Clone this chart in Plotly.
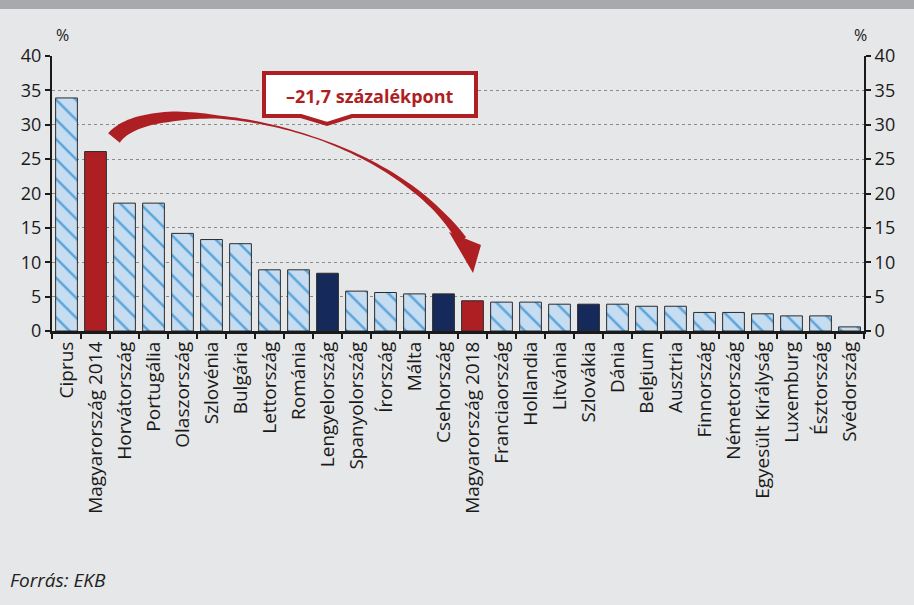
import numpy as np
import plotly.graph_objects as go

# share of non-performing loans, %
countries = ["Ciprus", "Magyarország 2014", "Horvátország", "Portugália", "Olaszország",
             "Szlovénia", "Bulgária", "Lettország", "Románia", "Lengyelország",
             "Spanyolország", "Írország", "Málta", "Csehország", "Magyarország 2018",
             "Franciaország", "Hollandia", "Litvánia", "Szlovákia", "Dánia",
             "Belgium", "Ausztria", "Finnország", "Németország", "Egyesült Királyság",
             "Luxemburg", "Észtország", "Svédország"]
values = [33.9, 26.1, 18.6, 18.6, 14.2, 13.3, 12.7, 8.9, 8.9, 8.4,
          5.8, 5.6, 5.4, 5.4, 4.4, 4.2, 4.2, 3.9, 3.9, 3.9,
          3.6, 3.6, 2.7, 2.7, 2.5, 2.2, 2.2, 0.6]
kinds = ["other", "hu", "other", "other", "other", "other", "other", "other", "other", "v4",
         "other", "other", "other", "v4", "hu", "other", "other", "other", "v4", "other",
         "other", "other", "other", "other", "other", "other", "other", "other"]
y_ticks = [0, 5, 10, 15, 20, 25, 30, 35, 40]

RED = "#AE1F24"
NAVY = "#15295A"
LIGHT = "#C6DCF0"
HATCH = "#5AA5DC"
BG = "#E6E7E8"
FONT = "Open Sans"

W, H = 914, 605
L, R, T, B = 52, 50, 56, 274
pw, ph = W - L - R, H - T - B


def px(x):
    return (x - L) / pw


def py(y):
    return (H - B - y) / ph


def subset(kind):
    xs = [c for c, k in zip(countries, kinds) if k == kind]
    ys = [v for v, k in zip(values, kinds) if k == kind]
    return xs, ys


fig = go.Figure()
styles = {
    "other": dict(color=LIGHT, pattern=dict(shape="\\", fillmode="replace", bgcolor=LIGHT,
                                            fgcolor=HATCH, fgopacity=1, size=14, solidity=0.18)),
    "hu": dict(color=RED),
    "v4": dict(color=NAVY),
}
for kind, st in styles.items():
    xs, ys = subset(kind)
    fig.add_trace(go.Bar(x=xs, y=ys, marker=dict(line=dict(color="#2b2b2b", width=1), **st),
                         showlegend=False))
fig.add_trace(go.Scatter(x=[countries[0]], y=[0], yaxis="y2", mode="markers",
                         marker=dict(opacity=0), showlegend=False, hoverinfo="skip"))

axis_common = dict(range=[0, 40], tickvals=y_ticks, ticks="outside", ticklen=5, tickwidth=2,
                   tickcolor="#1a1a1a", showline=True, linecolor="#1a1a1a", linewidth=2,
                   tickfont=dict(family=FONT, size=18, color="#1a1a1a"), zeroline=False)

fig.update_layout(
    width=W, height=H,
    margin=dict(l=L, r=R, t=T, b=B),
    paper_bgcolor=BG, plot_bgcolor=BG,
    barmode="overlay", bargap=0.25,
    xaxis=dict(type="category", categoryorder="array", categoryarray=countries,
               tickangle=-90, ticks="outside", tickson="boundaries",
               ticklen=5, tickwidth=2, tickcolor="#1a1a1a", showline=True, linecolor="#1a1a1a",
               linewidth=3, tickfont=dict(family=FONT, size=19, color="#1a1a1a"),
               showgrid=False, range=[-0.5, len(countries) - 0.5]),
    yaxis=dict(side="left", showgrid=True, gridcolor="#8a8a8a", griddash="dot", gridwidth=1,
               **axis_common),
    yaxis2=dict(side="right", overlaying="y", showgrid=False, **axis_common),
)

shapes = []
# grey band at the top
shapes.append(dict(type="rect", xref="paper", yref="paper", x0=px(0), x1=px(W), y0=py(0), y1=py(9),
                   fillcolor="#A7A9AC", line=dict(width=0), layer="above"))

# curved arrow from 2014 to 2018
t = np.linspace(0, 1, 80)
P = np.array([[114, 138], [150, 90], [380, 118], [462, 240]], dtype=float)
c = ((1 - t) ** 3)[:, None] * P[0] + (3 * (1 - t) ** 2 * t)[:, None] * P[1] \
    + (3 * (1 - t) * t ** 2)[:, None] * P[2] + (t ** 3)[:, None] * P[3]
d = np.gradient(c, axis=0)
n = np.stack([-d[:, 1], d[:, 0]], axis=1)
n /= np.linalg.norm(n, axis=1)[:, None]
wid = np.interp(t, [0, 0.25, 0.38, 0.6, 0.75, 0.92, 1.0], [15, 10, 3, 1.2, 3, 6, 10])
upper = c + n * wid[:, None] / 2
lower = c - n * wid[:, None] / 2
pts = list(upper) + list(lower[::-1])
path = "M " + " L ".join(f"{px(x):.5f},{py(y):.5f}" for x, y in pts) + " Z"
shapes.append(dict(type="path", xref="paper", yref="paper", path=path,
                   fillcolor=RED, line=dict(width=0), layer="above"))
head = [(449, 232), (481, 245), (473, 273)]
path = "M " + " L ".join(f"{px(x):.5f},{py(y):.5f}" for x, y in head) + " Z"
shapes.append(dict(type="path", xref="paper", yref="paper", path=path,
                   fillcolor=RED, line=dict(width=0), layer="above"))

# callout box
box = [(264, 73), (476, 73), (476, 116), (352, 116), (327, 124), (301, 116), (264, 116)]
path = "M " + " L ".join(f"{px(x):.5f},{py(y):.5f}" for x, y in box) + " Z"
shapes.append(dict(type="path", xref="paper", yref="paper", path=path,
                   fillcolor="white", line=dict(color=RED, width=4), layer="above"))
fig.update_layout(shapes=shapes)

fig.add_annotation(x=px(370), y=py(96), xref="paper", yref="paper", showarrow=False,
                   xanchor="center", yanchor="middle",
                   text="<b>–21,7 százalékpont</b>", font=dict(family=FONT, size=18, color=RED))
fig.add_annotation(x=px(62), y=py(35), xref="paper", yref="paper", showarrow=False,
                   xanchor="center", yanchor="middle",
                   text="%", font=dict(family=FONT, size=16, color="#1a1a1a"))
fig.add_annotation(x=px(860), y=py(35), xref="paper", yref="paper", showarrow=False,
                   xanchor="center", yanchor="middle",
                   text="%", font=dict(family=FONT, size=16, color="#1a1a1a"))
fig.add_annotation(x=px(8), y=py(580), xref="paper", yref="paper", showarrow=False,
                   xanchor="left", yanchor="middle", text="<i>Forrás: EKB</i>",
                   font=dict(family=FONT, size=19, color="#222222"))

fig.write_html("out.html", config={"displayModeBar": False},
               post_script="document.body.style.margin='0';")
